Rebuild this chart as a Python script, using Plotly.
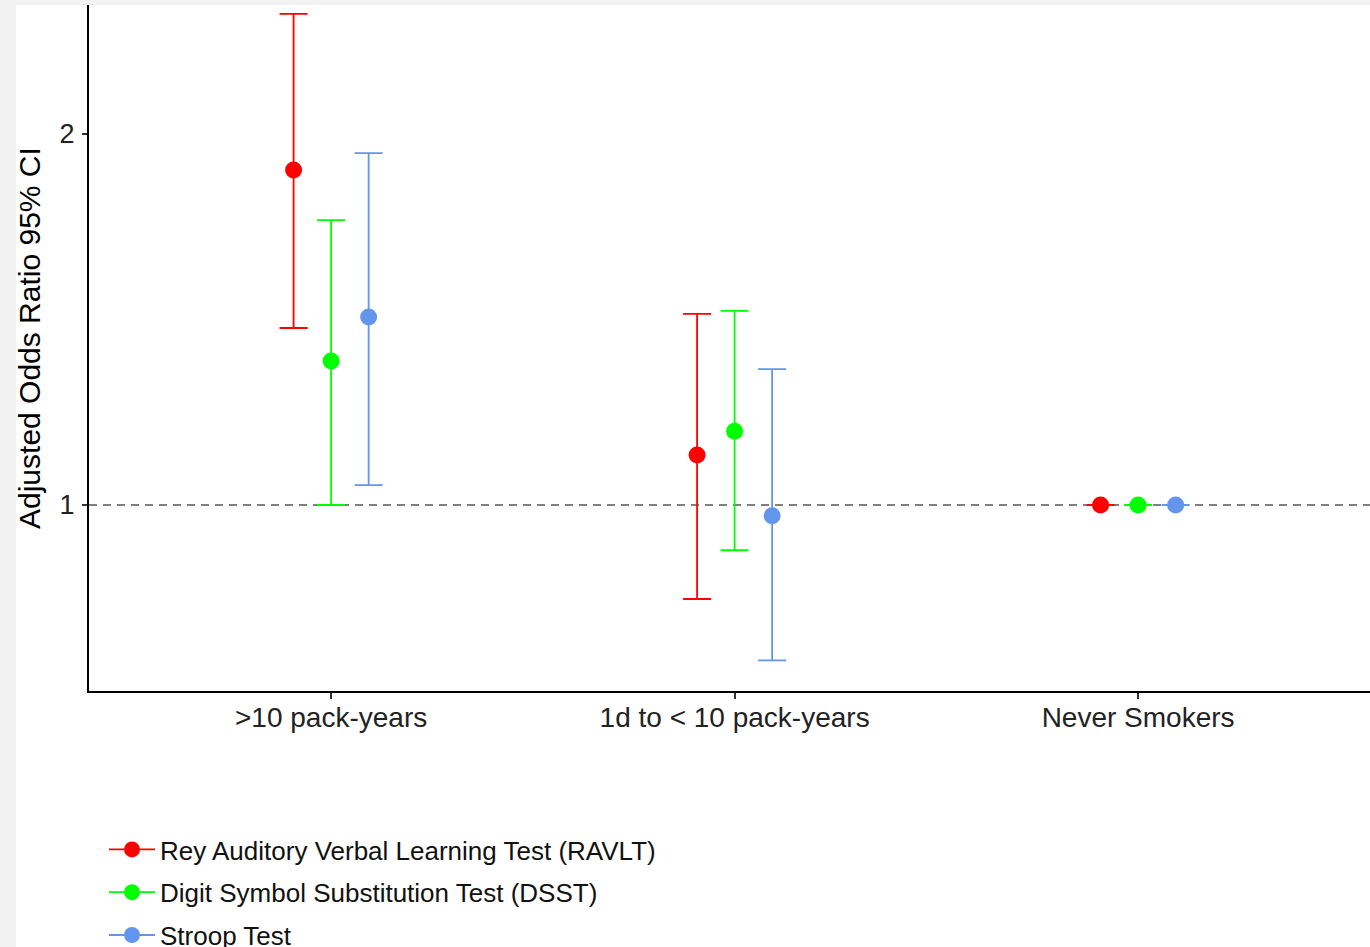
import plotly.graph_objects as go

categories = [">10 pack-years", "1d to < 10 pack-years", "Never Smokers"]
series_names = ["Rey Auditory Verbal Learning Test (RAVLT)",
                "Digit Symbol Substitution Test (DSST)",
                "Stroop Test"]
colors = ["#FF0000", "#00FF00", "#6495ED"]

# odds ratios (point estimates) per category
ravlt_or = [1.870, 1.098, 1.0]
ravlt_lo = [1.392, 0.839, 1.0]
ravlt_hi = [2.503, 1.429, 1.0]

dsst_or = [1.309, 1.148, 1.0]
dsst_lo = [1.000, 0.919, 1.0]
dsst_hi = [1.703, 1.437, 1.0]

stroop_or = [1.421, 0.980, 1.0]
stroop_lo = [1.038, 0.748, 1.0]
stroop_hi = [1.930, 1.289, 1.0]

y_ticks = [1, 2]

series = [
    (ravlt_or, ravlt_lo, ravlt_hi),
    (dsst_or, dsst_lo, dsst_hi),
    (stroop_or, stroop_lo, stroop_hi),
]
dodge = [-0.093, 0.0, 0.093]

fig = go.Figure()

for i, (name, col, (mid, lo, hi)) in enumerate(zip(series_names, colors, series)):
    xs = [k + dodge[i] for k in range(len(categories))]
    fig.add_trace(go.Scatter(
        x=xs, y=mid, mode="markers", name=name, showlegend=False,
        marker=dict(color=col, size=17),
        error_y=dict(type="data", symmetric=False,
                     array=[h - m for h, m in zip(hi, mid)],
                     arrayminus=[m - l for m, l in zip(mid, lo)],
                     color=col, thickness=1.8, width=14),
    ))

for i, (name, col) in enumerate(zip(series_names, colors)):
    fig.add_trace(go.Scatter(
        x=[None], y=[None], mode="lines+markers", name=name,
        legendgroup=f"g{i}",
        line=dict(color=col, width=1.8),
        marker=dict(color=col, size=17),
    ))

W, H = 1370, 947
L, R, T, B = 89, 0, 5, 256
pw, ph = W - L - R, H - T - B

def px_x(px):
    return (px - L) / pw

def px_y(py):
    return (H - B - py) / ph

fig.add_shape(type="line", xref="paper", yref="y", x0=0, x1=1, y0=1, y1=1,
              line=dict(color="#555555", width=1.6, dash="8px,6px"), layer="below")

# grey screenshot frame on top and left edges
fig.add_shape(type="rect", xref="paper", yref="paper",
              x0=px_x(0), x1=px_x(16), y0=px_y(H), y1=px_y(0),
              fillcolor="#F2F2F2", line=dict(width=0), layer="above")
fig.add_shape(type="rect", xref="paper", yref="paper",
              x0=px_x(0), x1=px_x(W), y0=px_y(5), y1=px_y(0),
              fillcolor="#F2F2F2", line=dict(width=0), layer="above")

fig.add_annotation(text="Adjusted Odds Ratio 95% CI", textangle=-90,
                   xref="paper", yref="paper", x=px_x(30), y=px_y(338),
                   xanchor="center", yanchor="middle", showarrow=False,
                   font=dict(family="Arial, Liberation Sans, sans-serif", size=30, color="#000000"))

fig.update_layout(
    width=W, height=H,
    margin=dict(l=L, r=R, t=T, b=B, pad=0, autoexpand=False),
    paper_bgcolor="white", plot_bgcolor="white",
    font=dict(family="Arial, Liberation Sans, sans-serif", color="#222222"),
    showlegend=True,
    legend=dict(x=px_x(104), y=px_y(826), xanchor="left", yanchor="top",
                font=dict(size=26, color="#111111"), tracegroupgap=6,
                itemwidth=46,
                bgcolor="rgba(0,0,0,0)", itemsizing="trace"),
    xaxis=dict(range=[-0.6, 2.5747], tickvals=list(range(len(categories))),
               ticktext=categories, showgrid=False, zeroline=False,
               showline=True, linecolor="black", linewidth=2,
               ticks="outside", ticklen=6, tickwidth=1.5, tickcolor="#333333",
               ticklabelstandoff=-6,
               tickfont=dict(size=28, color="#222222")),
    yaxis=dict(type="log", range=[-0.1509, 0.4057], tickvals=y_ticks,
               ticktext=[str(v) for v in y_ticks], showgrid=False, zeroline=False,
               showline=True, linecolor="black", linewidth=2,
               ticks="outside", ticklen=5, tickwidth=1.5, tickcolor="#333333",
               ticklabelstandoff=2,
               tickfont=dict(size=27, color="#222222")),
)

fig.write_html("out.html", config={"displayModeBar": False},
               post_script="document.body.style.margin='0';document.body.style.overflow='hidden';")
